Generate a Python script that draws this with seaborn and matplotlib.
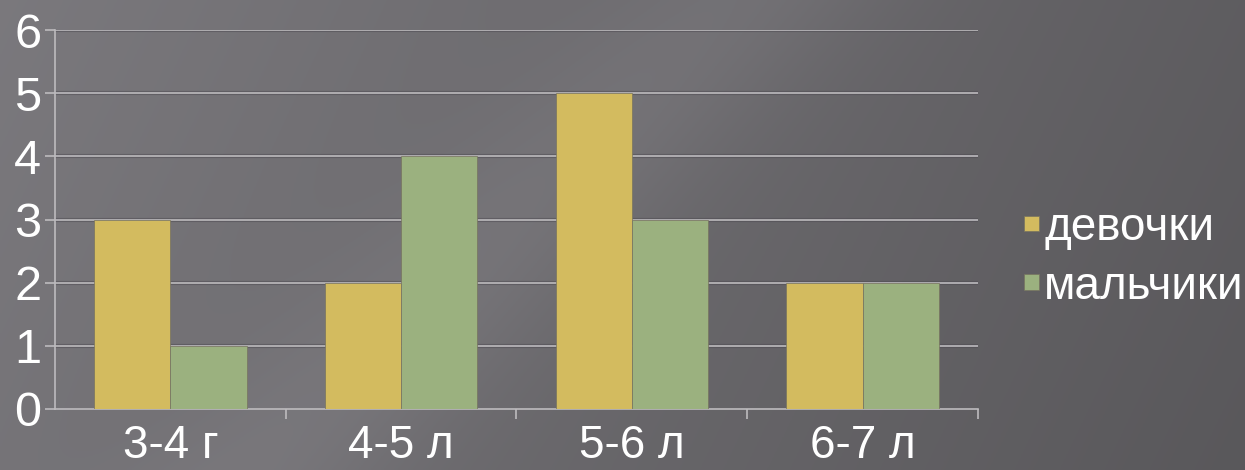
import numpy as np
import pandas as pd
import seaborn as sns
import matplotlib.pyplot as plt

ages = ['3-4 г', '4-5 л', '5-6 л', '6-7 л']
girls = [3, 2, 5, 2]
boys = [1, 4, 3, 2]
series = ['девочки', 'мальчики']

df = pd.DataFrame({
    'age': ages * 2,
    'count': girls + boys,
    'group': [series[0]] * len(ages) + [series[1]] * len(ages),
})

sns.set_style('white')
plt.rcParams['font.family'] = ['Liberation Sans', 'DejaVu Sans']

fig = plt.figure(figsize=(12.45, 4.7), dpi=100)

# grey slide background: darker to the right, with a lighter diagonal band
bg = fig.add_axes([0, 0, 1, 1])
yy, xx = np.mgrid[0:1:200j, 0:1:500j]
shade = 0.48 - 0.11 * xx
band = np.exp(-((xx * 2.6 + yy * 1.0 - 1.55) ** 2) / 0.08)
shade = shade + 0.035 * band - 0.02 * yy
img = np.dstack([shade * 1.0, shade * 0.985, shade * 1.02])
bg.imshow(np.clip(img, 0, 1), aspect='auto', extent=[0, 1, 0, 1], origin='upper')
bg.axis('off')

ax = fig.add_axes([0.0442, 0.1298, 0.7413, 0.8062])
ax.patch.set_alpha(0)
sns.barplot(data=df, x='age', y='count', hue='group', ax=ax,
            palette=['#D3BB5F', '#9BB17F'], saturation=1, width=0.66,
            edgecolor='#77735F', linewidth=0.5, zorder=3)

ax.set_ylim(0, 6)
ax.set_xlim(-0.5, 3.5)
ax.set_yticks(range(7))
ax.set_xlabel('')
ax.set_ylabel('')
ax.grid(False)
for v in range(1, 7):
    ax.axhline(v, color='#4E4B52', lw=3.0, zorder=1, alpha=0.5)
    ax.axhline(v, color='#BDBBBE', lw=1.2, zorder=2)

for s in ['top', 'right']:
    ax.spines[s].set_visible(False)
for s in ['left', 'bottom']:
    ax.spines[s].set_color('#BDBBBE')
    ax.spines[s].set_linewidth(1.2)

ax.tick_params(axis='y', colors='#BDBBBE', length=7, width=1.2, direction='out',
               labelsize=35, labelcolor='white', pad=3, left=True)
ax.tick_params(axis='x', length=0, labelsize=33, labelcolor='white', pad=11)
ax.set_xticks(range(len(ages)))
ax.set_xticklabels(ages)
ax.set_xticks([0.5, 1.5, 2.5, 3.5], minor=True)
ax.tick_params(axis='x', which='minor', length=7, width=1.2, color='#BDBBBE',
               direction='out', bottom=True)

handles, labels = ax.get_legend_handles_labels()
leg = ax.legend(handles, labels, loc='center left', bbox_to_anchor=(1.03, 0.40),
                frameon=False, fontsize=33, handlelength=0.32, handleheight=0.15,
                handletextpad=0.12, labelspacing=0.32, labelcolor='white',
                borderaxespad=0.0)

fig.savefig('out.png', dpi=100)
